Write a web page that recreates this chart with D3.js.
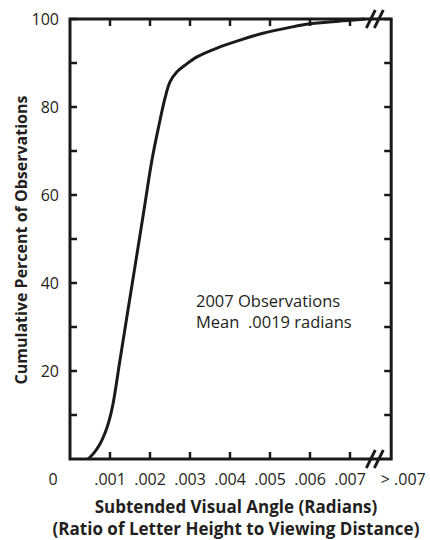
<!DOCTYPE html>
<html>
<head>
<meta charset="utf-8">
<script src="https://cdn.jsdelivr.net/npm/d3@7"></script>
<style>
  html, body { margin: 0; padding: 0; background: #fff; }
  svg { display: block; }
  text { font-family: "Open Sans", "DejaVu Sans", sans-serif; fill: #231f20; white-space: pre; }
</style>
</head>
<body>
<svg id="chart" width="430" height="540"></svg>
<script>
// ---- data ----
const angle = [0.00045, 0.0006, 0.00075, 0.000875, 0.000975, 0.001075, 0.00125, 0.00145, 0.00165, 0.00185, 0.00205,
               0.002225, 0.002375, 0.0025, 0.002675, 0.002875, 0.003175, 0.003675, 0.00425, 0.0048, 0.0055,
               0.006, 0.007, 0.007375];
const cumPct = [0, 1.4, 3.4, 5.9, 8.6, 12.5, 22.5, 33.9, 45.2, 56.6, 68.0,
                75.9, 82.0, 85.7, 88.0, 89.5, 91.4, 93.4, 95.2, 96.7, 98.1,
                98.9, 99.7, 100];

const xTickValues = [0.001, 0.002, 0.003, 0.004, 0.005, 0.006, 0.007];
const xTickLabels = [".001", ".002", ".003", ".004", ".005", ".006", ".007"];
const xZeroLabel = "0";
const xOverflowLabel = "> .007";
const xOverflowValue = 0.00833;   // where the "> .007" category sits
const xBreakValue = 0.00762;      // axis break
const xFrameMax = 0.00803;        // right edge of frame

const yTickValues = [10, 20, 30, 40, 50, 60, 70, 80, 90, 100];
const yLabelValues = [20, 40, 60, 80, 100];

const xTitle1 = "Subtended Visual Angle (Radians)";
const xTitle2 = "(Ratio of Letter Height to Viewing Distance)";
const yTitle = "Cumulative Percent of Observations";
const note1 = "2007 Observations";
const note2 = "Mean  .0019 radians";

(function () {
// ---- layout ----
const svg = d3.select("#chart");
const ink = "#1a1a1a";
const x = d3.scaleLinear().domain([0, 0.007]).range([70, 350]);
const y = d3.scaleLinear().domain([0, 100]).range([459, 19]);
const pLeft = x(0), pRight = x(xFrameMax), pTop = y(100), pBottom = y(0);
const tickLen = 7;

// ticks inside the frame
const tk = svg.append("g").attr("stroke", ink).attr("stroke-width", 2.5);
xTickValues.forEach(v => {
  tk.append("line").attr("x1", x(v)).attr("x2", x(v)).attr("y1", pBottom).attr("y2", pBottom - tickLen);
  tk.append("line").attr("x1", x(v)).attr("x2", x(v)).attr("y1", pTop).attr("y2", pTop + tickLen);
});
yTickValues.forEach(v => {
  tk.append("line").attr("x1", pLeft).attr("x2", pLeft + tickLen).attr("y1", y(v)).attr("y2", y(v));
  tk.append("line").attr("x1", pRight).attr("x2", pRight - tickLen).attr("y1", y(v)).attr("y2", y(v));
});

// curve
const line = d3.line()
  .x((d, i) => x(angle[i]))
  .y((d, i) => y(cumPct[i]))
  .curve(d3.curveCatmullRom.alpha(0.5));
svg.append("path")
  .attr("d", line(angle))
  .attr("fill", "none")
  .attr("stroke", ink)
  .attr("stroke-width", 3)
  .attr("stroke-linejoin", "round");

// frame
svg.append("rect")
  .attr("x", pLeft).attr("y", pTop)
  .attr("width", pRight - pLeft).attr("height", pBottom - pTop)
  .attr("fill", "none").attr("stroke", ink).attr("stroke-width", 3);

// axis break marks
const bx = x(xBreakValue);
[pTop, pBottom].forEach(by => {
  [-4, 4].forEach(off => {
    svg.append("line")
      .attr("x1", bx + off - 4.5).attr("y1", by + 9)
      .attr("x2", bx + off + 4.5).attr("y2", by - 9)
      .attr("stroke", ink).attr("stroke-width", 2.8);
  });
});

// x tick labels
const xl = svg.append("g").attr("font-size", 16).attr("text-anchor", "middle");
xTickValues.forEach((v, i) => {
  xl.append("text").attr("x", x(v)).attr("y", pBottom + 26).text(xTickLabels[i]);
});
xl.append("text").attr("x", x(0) - 17).attr("y", pBottom + 26).text(xZeroLabel);
xl.append("text").attr("x", x(xOverflowValue)).attr("y", pBottom + 26).text(xOverflowLabel);

// y tick labels
const yl = svg.append("g").attr("font-size", 16).attr("text-anchor", "end");
yLabelValues.forEach(v => {
  yl.append("text").attr("x", pLeft - 11).attr("y", y(v) + 5.5).text(v);
});

// titles
svg.append("text").attr("x", 236).attr("y", 513).attr("text-anchor", "middle")
  .attr("font-size", 17).attr("font-weight", "bold").text(xTitle1);
svg.append("text").attr("x", 236).attr("y", 535).attr("text-anchor", "middle")
  .attr("font-size", 17).attr("font-weight", "bold").text(xTitle2);
svg.append("text").attr("transform", "translate(27,240) rotate(-90)").attr("text-anchor", "middle")
  .attr("font-size", 16).attr("font-weight", "bold").text(yTitle);

// annotation
svg.append("text").attr("x", 196).attr("y", 307).attr("font-size", 16.5).text(note1);
svg.append("text").attr("x", 196).attr("y", 328).attr("font-size", 16.5).text(note2);
})();
</script>
</body>
</html>
